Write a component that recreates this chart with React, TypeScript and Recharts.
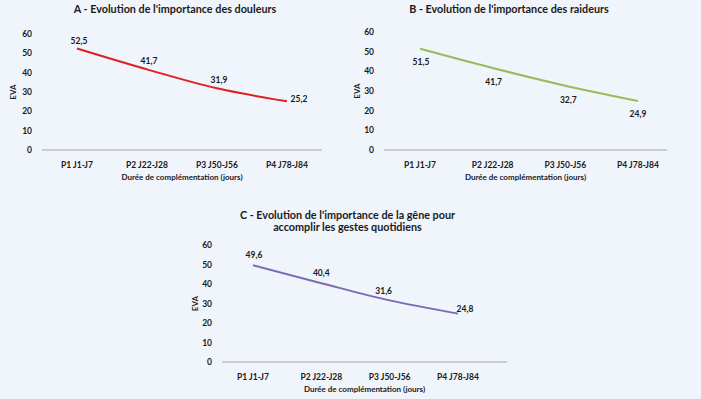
import React from "react";
import { LineChart, Line, XAxis, YAxis, LabelList } from "recharts";

const categories = ["P1 J1-J7", "P2 J22-J28", "P3 J50-J56", "P4 J78-J84"];
const douleurs = [52.5, 41.7, 31.9, 25.2];
const raideurs = [51.5, 41.7, 32.7, 24.9];
const gene = [49.6, 40.4, 31.6, 24.8];
const yTicks = [0, 10, 20, 30, 40, 50, 60];

const titleA = "A - Evolution de l'importance des douleurs";
const titleB = "B - Evolution de l'importance des raideurs";
const titleC1 = "C - Evolution de l'importance de la gêne pour";
const titleC2 = "accomplir les gestes quotidiens";
const xTitle = "Durée de complémentation (jours)";
const yTitle = "EVA";

const FONT = "Lato, 'Open Sans', sans-serif";
const TXT = "#1a1a1a";

const build = (vals: number[]) => categories.map((c, i) => ({ cat: c, v: vals[i] }));

const fmt = (v: number) => v.toFixed(1).replace(".", ",");

type Off = [number, number];

const makeLabel = (offs: Off[]) => (props: any) => {
  const { x, y, value, index } = props;
  const [dx, dy] = offs[index] || [0, -8];
  return (
    <text
      x={x + dx}
      y={y + dy}
      textAnchor="middle"
      dominantBaseline="central"
      fontSize={8.5}
      fontWeight={700}
      fill={TXT}
      fontFamily={FONT}
    >
      {fmt(value)}
    </text>
  );
};

type PanelProps = {
  left: number;
  top: number;
  width: number;
  height: number;
  margin: { top: number; right: number; bottom: number; left: number };
  pad: { left: number; right: number };
  yLabelOffset: number;
  vals: number[];
  color: string;
  offs: Off[];
};

const Panel = ({ left, top, width, height, margin, pad, yLabelOffset, vals, color, offs }: PanelProps) => (
  <div style={{ position: "absolute", left, top }}>
    <LineChart width={width} height={height} data={build(vals)} margin={margin}>
      <XAxis
        dataKey="cat"
        tickLine={false}
        axisLine={{ stroke: "#a6a6a6", strokeWidth: 1 }}
        tick={{ fontSize: 8.5, fontWeight: 700, fill: TXT, fontFamily: FONT }}
        tickMargin={6}
        height={30}
        interval={0}
        padding={pad}
        label={{
          value: xTitle,
          position: "insideBottom",
          offset: 0,
          fontSize: 8,
          fontWeight: 700,
          fill: TXT,
          fontFamily: FONT,
        }}
      />
      <YAxis
        domain={[0, 60]}
        ticks={yTicks}
        tickLine={false}
        axisLine={false}
        width={24}
        tick={{ fontSize: 8.5, fontWeight: 700, fill: TXT, fontFamily: FONT }}
        tickMargin={4}
        label={{
          value: yTitle,
          angle: -90,
          position: "insideLeft",
          offset: yLabelOffset,
          fontSize: 8,
          fontWeight: 700,
          fill: TXT,
          fontFamily: FONT,
          style: { textAnchor: "middle" },
        }}
      />
      <Line
        type="monotone"
        dataKey="v"
        stroke={color}
        strokeWidth={2}
        dot={false}
        isAnimationActive={false}
      >
        <LabelList dataKey="v" content={makeLabel(offs)} />
      </Line>
    </LineChart>
  </div>
);

const titleStyle: React.CSSProperties = {
  position: "absolute",
  fontFamily: FONT,
  fontWeight: 700,
  fontSize: 10.8,
  color: TXT,
  textAlign: "center",
  whiteSpace: "nowrap",
  lineHeight: "12px",
};

export default function App() {
  return (
    <div
      style={{
        position: "absolute",
        left: 0,
        top: 0,
        width: 701,
        height: 399,
        background: "#f0f4fb",
        overflow: "hidden",
      }}
    >
      <div style={{ ...titleStyle, left: 0, width: 350, top: 3 }}>{titleA}</div>
      <div style={{ ...titleStyle, left: 350, width: 318, top: 3 }}>{titleB}</div>
      <div style={{ ...titleStyle, left: 180, width: 335, top: 209 }}>
        {titleC1}
        <br />
        {titleC2}
      </div>
      <Panel
        left={0}
        top={0}
        width={350}
        height={190}
        margin={{ top: 34, right: 28, bottom: 10, left: 18 }}
        pad={{ left: 35, right: 35 }}
        yLabelOffset={-5}
        vals={douleurs}
        color="#e02020"
        offs={[[2, -8], [2, -8], [2, -8], [12, -2]]}
      />
      <Panel
        left={350}
        top={0}
        width={351}
        height={190}
        margin={{ top: 32, right: 34, bottom: 10, left: 10 }}
        pad={{ left: 36, right: 29 }}
        yLabelOffset={-3}
        vals={raideurs}
        color="#9bbb59"
        offs={[[1, 13], [1, 14], [3, 14], [0, 13]]}
      />
      <Panel
        left={180}
        top={200}
        width={350}
        height={199}
        margin={{ top: 45, right: 23, bottom: 7, left: 18 }}
        pad={{ left: 31, right: 49 }}
        yLabelOffset={-3}
        vals={gene}
        color="#7b6bb5"
        offs={[[1, -10], [0, -10], [-6, -9], [7, -5]]}
      />
    </div>
  );
}
